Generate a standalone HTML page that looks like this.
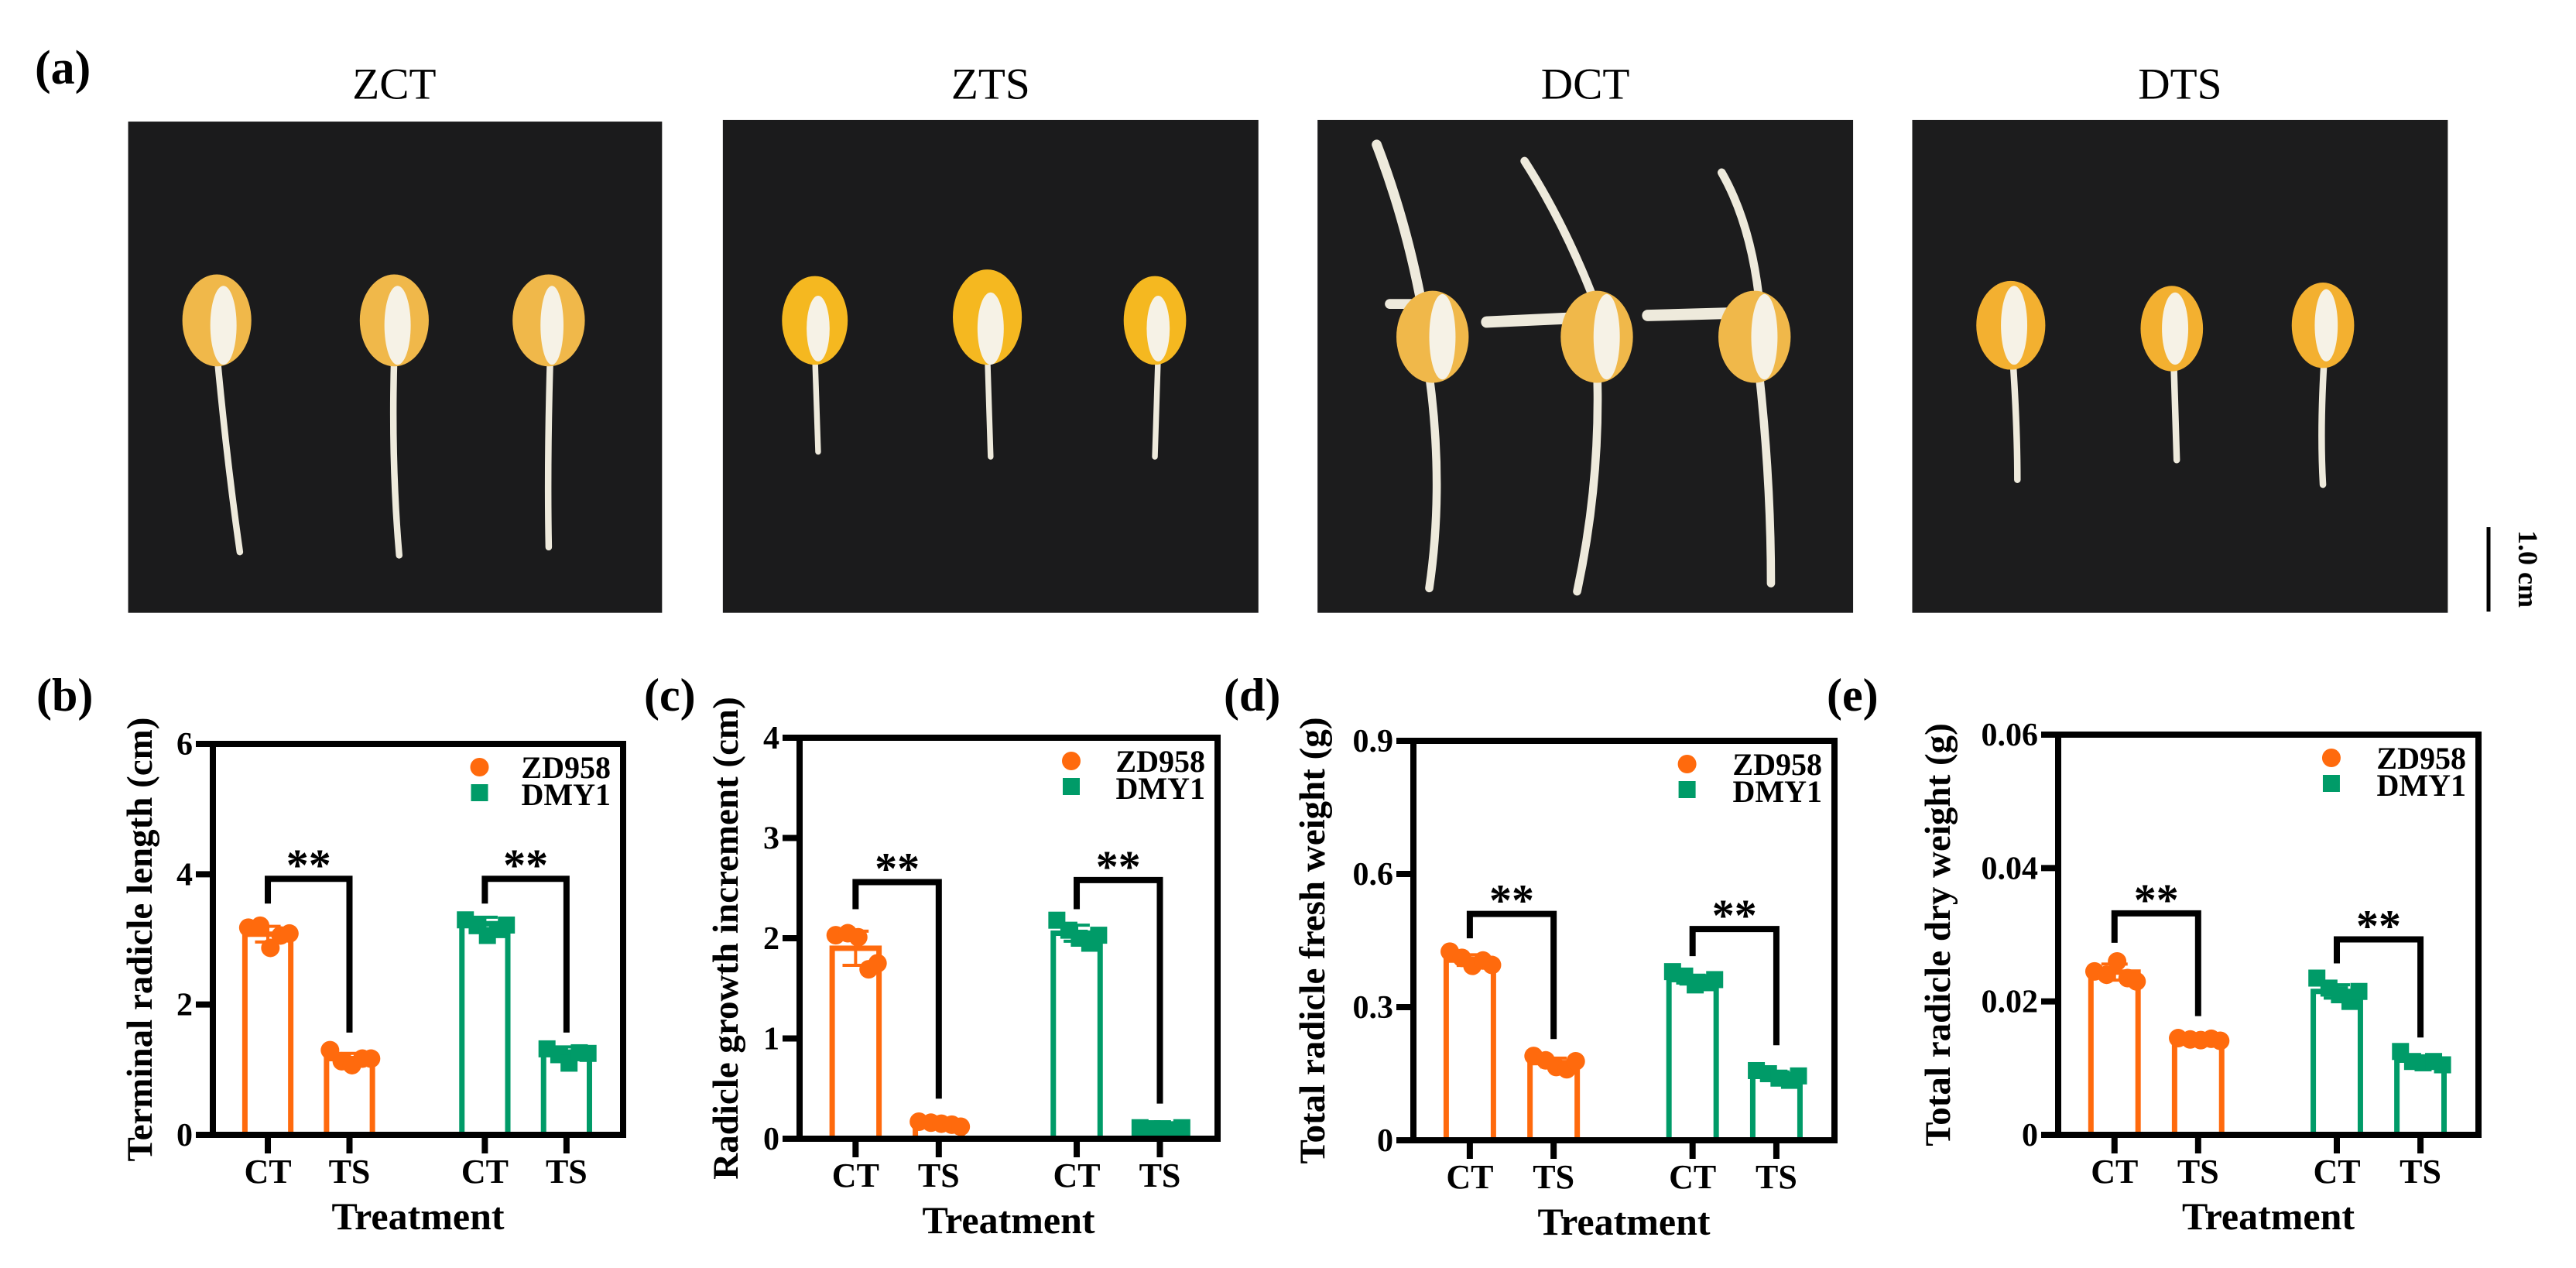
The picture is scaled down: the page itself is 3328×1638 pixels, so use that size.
<!DOCTYPE html>
<html><head><meta charset="utf-8">
<style>
html,body{margin:0;padding:0;background:#fff;}
svg{display:block;}
text{font-family:"Liberation Serif","Times New Roman",serif;}
</style></head>
<body>
<svg id="fig" width="3328" height="1638" viewBox="0 0 3328 1638" xmlns="http://www.w3.org/2000/svg" font-family="Liberation Serif, serif">
  <text x="45" y="108" font-size="62" font-weight="bold">(a)</text>
  <g transform="scale(2.1224)">
    <text x="240" y="60" font-size="27" text-anchor="middle">ZCT</text>
    <text x="603" y="60" font-size="27" text-anchor="middle">ZTS</text>
    <text x="965" y="60" font-size="27" text-anchor="middle">DCT</text>
    <text x="1327" y="60" font-size="27" text-anchor="middle">DTS</text>
    <rect x="78" y="74" width="325" height="299" fill="#1b1b1c"/>
    <rect x="440" y="73" width="326" height="300" fill="#1b1b1c"/>
    <rect x="802" y="73" width="326" height="300" fill="#1c1c1d"/>
    <rect x="1164" y="73" width="326" height="300" fill="#1c1c1d"/>
    <g stroke="#eeeadc" stroke-linecap="round" fill="none">
      <path d="M132 215 Q138 280 146 336" stroke-width="4"/>
      <path d="M240 215 Q238 280 243 338" stroke-width="4"/>
      <path d="M335 215 Q333 280 334 333" stroke-width="4"/>
      <path d="M496 215 L498 275" stroke-width="3.5"/>
      <path d="M601 215 L603 278" stroke-width="3.5"/>
      <path d="M705 215 L703 278" stroke-width="3.5"/>
      <path d="M868 215 Q880 290 870 358" stroke-width="5"/>
      <path d="M868 200 Q858 140 838 88" stroke-width="6"/>
      <path d="M972 220 Q975 290 960 360" stroke-width="5"/>
      <path d="M975 195 Q955 140 928 98" stroke-width="5"/>
      <path d="M1070 220 Q1078 290 1078 355" stroke-width="5"/>
      <path d="M1072 195 Q1068 140 1048 105" stroke-width="5"/>
      <path d="M905 196 L970 193" stroke-width="7"/>
      <path d="M1003 192 L1075 190" stroke-width="7"/>
      <path d="M846 185 L870 185" stroke-width="6"/>
      <path d="M1225 215 Q1228 260 1228 292" stroke-width="4"/>
      <path d="M1323 215 L1325 280" stroke-width="4"/>
      <path d="M1415 215 Q1412 260 1414 295" stroke-width="4"/>
    </g>
    <g fill="#f0b84a">
      <ellipse cx="132" cy="195" rx="21" ry="28"/><ellipse cx="240" cy="195" rx="21" ry="28"/><ellipse cx="334" cy="195" rx="22" ry="28"/>
      <ellipse cx="496" cy="195" rx="20" ry="27" fill="#f5b820"/><ellipse cx="601" cy="193" rx="21" ry="29" fill="#f5b820"/><ellipse cx="703" cy="195" rx="19" ry="27" fill="#f5b820"/>
      <ellipse cx="872" cy="205" rx="22" ry="28"/><ellipse cx="972" cy="205" rx="22" ry="28"/><ellipse cx="1068" cy="205" rx="22" ry="28"/>
      <ellipse cx="1224" cy="198" rx="21" ry="27" fill="#f3b030"/><ellipse cx="1322" cy="200" rx="19" ry="26" fill="#f3b030"/><ellipse cx="1414" cy="198" rx="19" ry="26" fill="#f3b030"/>
    </g>
    <g fill="#f6f2e6">
      <ellipse cx="136" cy="198" rx="8" ry="24"/><ellipse cx="242" cy="198" rx="8" ry="24"/><ellipse cx="336" cy="198" rx="7" ry="24"/>
      <ellipse cx="498" cy="200" rx="7" ry="20"/><ellipse cx="603" cy="200" rx="8" ry="22"/><ellipse cx="705" cy="200" rx="7" ry="20"/>
      <ellipse cx="878" cy="205" rx="8" ry="26"/><ellipse cx="978" cy="205" rx="8" ry="26"/><ellipse cx="1074" cy="205" rx="8" ry="26"/>
      <ellipse cx="1226" cy="198" rx="8" ry="24"/><ellipse cx="1324" cy="200" rx="8" ry="22"/><ellipse cx="1416" cy="198" rx="7" ry="22"/>
    </g>
  </g>
  <line x1="3215" y1="681" x2="3215" y2="790" stroke="#000" stroke-width="5"/>
  <text transform="translate(3254,735) rotate(90)" font-size="36" font-weight="bold" text-anchor="middle">1.0 cm</text>
  <g id="charts"></g>
</svg>
<script>
const categories = ["CT","TS","CT","TS"];
const genotypes = ["ZD958","DMY1"];
// (b) terminal radicle length (cm)
const lengthMeans = [3.08, 1.17, 3.24, 1.27];
const lengthSD = [0.12, 0.08, 0.1, 0.08];
const lengthPoints = [[3.18,3.21,2.87,3.06,3.09],[1.30,1.13,1.07,1.17,1.17],[3.30,3.21,3.06,3.15,3.22],[1.32,1.23,1.10,1.26,1.25]];
const lengthTicks = [0,2,4,6];
// (c) radicle growth increment (cm)
const growthMeans = [1.90, 0.15, 2.05, 0.10];
const growthSD = [0.17, 0.02, 0.08, 0.01];
const growthPoints = [[2.03,2.05,2.01,1.69,1.75],[0.17,0.16,0.15,0.14,0.12],[2.18,2.08,2.00,1.95,2.03],[0.11,0.10,0.10,0.09,0.11]];
const growthTicks = [0,1,2,3,4];
// (d) total radicle fresh weight (g)
const freshMeans = [0.406, 0.175, 0.362, 0.146];
const freshSD = [0.012, 0.01, 0.01, 0.008];
const freshPoints = [[0.425,0.411,0.393,0.405,0.395],[0.19,0.18,0.165,0.16,0.178],[0.38,0.37,0.35,0.355,0.362],[0.157,0.15,0.14,0.135,0.145]];
const freshTicks = [0,0.3,0.6,0.9];
// (e) total radicle dry weight (g)
const dryMeans = [0.0244, 0.0143, 0.0215, 0.0112];
const drySD = [0.0012, 0.0003, 0.001, 0.0006];
const dryPoints = [[0.0245,0.024,0.026,0.0235,0.023],[0.0145,0.0143,0.0142,0.0144,0.0141],[0.0235,0.022,0.021,0.020,0.0215],[0.0125,0.011,0.0108,0.011,0.0105]];
const dryTicks = [0,0.02,0.04,0.06];
// significance brackets: [top, leftLegBottom, rightLegBottom] for each genotype
const lengthBrackets = [[3.93,3.55,1.57],[3.93,3.55,1.57]];
const growthBrackets = [[2.56,2.29,0.40],[2.58,2.29,0.35]];
const freshBrackets = [[0.51,0.455,0.228],[0.476,0.415,0.214]];
const dryBrackets = [[0.0332,0.0288,0.0178],[0.0293,0.0257,0.0146]];

const panels = [
  {key:"b", label:"(b)", lx:47, left:275, right:805, top:961, bottom:1466, title:"Terminal radicle length (cm)", tOff:95, means:lengthMeans, sd:lengthSD, pts:lengthPoints, ticks:lengthTicks, br:lengthBrackets, fmt:v=>String(v)},
  {key:"c", label:"(c)", lx:832, left:1033, right:1573, top:953, bottom:1471, title:"Radicle growth increment (cm)", tOff:96, means:growthMeans, sd:growthSD, pts:growthPoints, ticks:growthTicks, br:growthBrackets, fmt:v=>String(v)},
  {key:"d", label:"(d)", lx:1581, left:1826, right:2370, top:957, bottom:1473, title:"Total radicle fresh weight (g)", tOff:131, means:freshMeans, sd:freshSD, pts:freshPoints, ticks:freshTicks, br:freshBrackets, fmt:v=>v===0?"0":v.toFixed(1)},
  {key:"e", label:"(e)", lx:2360, left:2659, right:3202, top:949, bottom:1466, title:"Total radicle dry weight (g)", tOff:156, means:dryMeans, sd:drySD, pts:dryPoints, ticks:dryTicks, br:dryBrackets, fmt:v=>v===0?"0":v.toFixed(2)}
];
const colors = ["#ff6a0d","#ff6a0d","#009b68","#009b68"];
const centers = [0.134,0.333,0.663,0.862];
const jitter = [-0.38,-0.15,0.05,0.25,0.42];
const NS = "http://www.w3.org/2000/svg";
const root = document.getElementById("charts");
function mk(tag, attrs, parent, txt){
  const e = document.createElementNS(NS, tag);
  for (const k in attrs) e.setAttribute(k, attrs[k]);
  if (tag === "text") e.setAttribute("font-family", "Liberation Serif, serif");
  if (txt !== undefined) e.textContent = txt;
  parent.appendChild(e);
  return e;
}
panels.forEach(p=>{
  const g = mk("g", {}, root);
  
  
  const w = p.right - p.left;
  const ymax = p.ticks[p.ticks.length-1];
  const y = v => p.bottom - (v/ymax)*(p.bottom - p.top);
  const x = f => p.left + f*w;
  const bw = 0.125*w;
  const lab = mk("text", {x:p.lx, y:918, "font-size":60, "font-weight":"bold"}, g, p.label);
  
  
  categories.forEach((c,i)=>{
    const cx = x(centers[i]);
    const bar = mk("rect", {x:cx-bw/2+3.5, y:y(p.means[i]), width:bw-7, height:y(0)-y(p.means[i]), fill:"#fff", stroke:colors[i], "stroke-width":7}, g);
    
    
    const eb = mk("path", {d:`M${cx} ${y(p.means[i]+p.sd[i])} V${y(p.means[i]-p.sd[i])} M${cx-bw*0.25} ${y(p.means[i]+p.sd[i])} H${cx+bw*0.25} M${cx-bw*0.25} ${y(p.means[i]-p.sd[i])} H${cx+bw*0.25}`, stroke:colors[i], "stroke-width":4, fill:"none"}, g);
    
    
    p.pts[i].forEach((v,j)=>{
      const px = cx + jitter[j]*bw;
      let pt;
      if (i<2) pt = mk("circle", {cx:px, cy:y(v), r:12, fill:colors[i]}, g);
      else pt = mk("rect", {x:px-11, y:y(v)-11, width:22, height:22, fill:colors[i]}, g);
      
      
    });
  });
  const ax = mk("path", {d:`M${p.left} ${p.bottom} V${p.top} H${p.right} V${p.bottom} Z`, stroke:"#000", "stroke-width":8, fill:"none"}, g);
  
  
  p.ticks.forEach(t=>{
    const tk = mk("line", {x1:p.left-22, x2:p.left, y1:y(t), y2:y(t), stroke:"#000", "stroke-width":8}, g);
    
    
    const tl = mk("text", {x:p.left-26, y:y(t)+14, "font-size":42, "font-weight":"bold", "text-anchor":"end"}, g, p.fmt(t));
    
    
  });
  categories.forEach((c,i)=>{
    const cx = x(centers[i]);
    const tk = mk("line", {x1:cx, x2:cx, y1:p.bottom, y2:p.bottom+24, stroke:"#000", "stroke-width":8}, g);
    
    
    const tl = mk("text", {x:cx, y:p.bottom+62, "font-size":44, "font-weight":"bold", "text-anchor":"middle"}, g, c);
    
    
  });
  const xt = mk("text", {x:p.left+w/2, y:p.bottom+122, "font-size":50, "font-weight":"bold", "text-anchor":"middle"}, g, "Treatment");
  
  
  const cy = (p.top+p.bottom)/2;
  const yt = mk("text", {transform:`translate(${p.left-p.tOff+16},${cy}) rotate(-90)`, "font-size":47, "font-weight":"bold", "text-anchor":"middle"}, g, p.title);
  
  
  p.br.forEach((b,k)=>{
    const x1 = x(centers[k*2]), x2 = x(centers[k*2+1]);
    const br = mk("path", {d:`M${x1} ${y(b[1])} V${y(b[0])} H${x2} V${y(b[2])}`, stroke:"#000", "stroke-width":8, fill:"none"}, g);
    
    
    const st = mk("text", {x:(x1+x2)/2, y:y(b[0])+2, "font-size":58, "font-weight":"bold", "text-anchor":"middle"}, g, "**");
    
    
  });
  const lx = p.left + 0.65*w;
  const l1 = mk("circle", {cx:lx, cy:p.top+30, r:12, fill:colors[0]}, g);
  
  
  const t1 = mk("text", {x:p.right-16, y:p.top+44, "font-size":40, "font-weight":"bold", "text-anchor":"end"}, g, genotypes[0]);
  
  
  const l2 = mk("rect", {x:lx-11, y:p.top+52, width:22, height:22, fill:colors[2]}, g);
  
  
  const t2 = mk("text", {x:p.right-16, y:p.top+79, "font-size":40, "font-weight":"bold", "text-anchor":"end"}, g, genotypes[1]);
  
  
});
</script>
</body></html>
